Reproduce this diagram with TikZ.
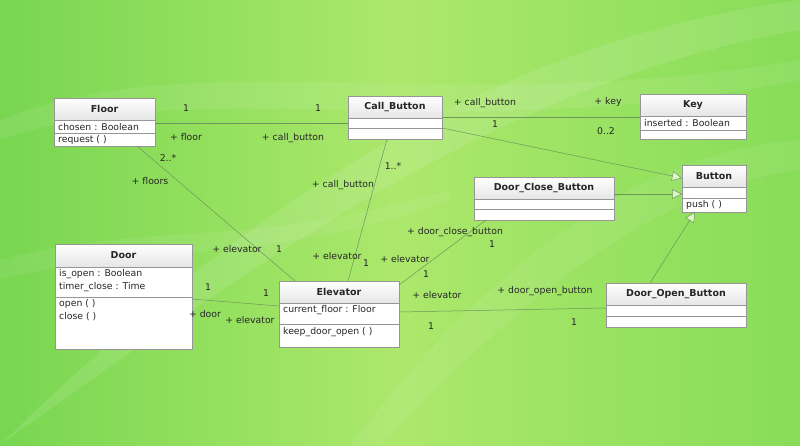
\documentclass[tikz,border=0pt]{standalone}
\usepackage{fontspec}
\setmainfont{DejaVu Sans}
\usetikzlibrary{arrows.meta,calc}
\definecolor{bgA}{RGB}{120,214,80}
\definecolor{bgB}{RGB}{172,232,108}
\definecolor{bgC}{RGB}{135,220,88}
\definecolor{edge}{RGB}{150,150,150}
\definecolor{lnk}{RGB}{110,150,90}
\tikzset{
  box/.style={draw=edge,fill=white,line width=0.8pt,inner sep=0pt},
  hdr/.style={draw=edge,top color=white,bottom color=black!10,line width=0.6pt},
  sep/.style={draw=edge,line width=0.6pt},
  title/.style={font=\fontsize{9.5}{11}\selectfont\bfseries,text=black!85},
  txt/.style={font=\fontsize{9.3}{11}\selectfont,anchor=west,text=black!85,inner sep=0pt},
  lab/.style={font=\fontsize{9.3}{11}\selectfont,text=black!85,inner sep=0pt},
  assoc/.style={draw=lnk,line width=0.5pt},
  gen/.style={draw=lnk,line width=0.5pt,-{Triangle[open,length=10pt,width=10pt,fill=white!60!bgB]}},
}
\newcommand\uclass[7]{%
  \node[box,minimum width={#4-#2},minimum height={#5-#3},anchor=north west] (#1) at (#2,#3) {};
  \path[hdr] (#2,#3) rectangle (#4,#6);
  \node[title] (#1-t) at ({(#2+#4)/2},{(#3+#6)/2}) {#7};
}
\newcommand\hsep[3]{\draw[sep] (#1,#3) -- (#2,#3);}
\begin{document}
\begin{tikzpicture}[x=1pt,y=-1pt]
\useasboundingbox (0,0) rectangle (800,445);
\shade[left color=bgA,right color=bgC,middle color=bgB] (0,0) rectangle (800,445);
\fill[white,opacity=0.10] (0,445) .. controls (250,200) and (500,40) .. (800,0) -- (800,30) .. controls (520,80) and (300,230) .. (0,445);
\fill[white,opacity=0.08] (0,120) .. controls (200,40) and (450,120) .. (800,60) -- (800,80) .. controls (450,150) and (200,70) .. (0,140);
\fill[white,opacity=0.07] (350,445) .. controls (500,250) and (650,150) .. (800,140) -- (800,170) .. controls (650,190) and (520,300) .. (380,445);
\fill[white,opacity=0.07] (0,260) .. controls (150,220) and (250,250) .. (450,190) -- (450,200) .. controls (250,270) and (150,240) .. (0,280);

\uclass{floor}{54}{98}{155}{146}{120}{Floor}
\hsep{54}{155}{133}
\node[txt] at (58,127) {chosen : Boolean};
\node[txt] at (58,140) {request ( )};

\uclass{callb}{348}{96}{442}{139}{118}{Call\_Button}
\hsep{348}{442}{128}

\uclass{key}{640}{94}{746}{139}{116}{Key}
\hsep{640}{746}{130}
\node[txt] at (644,123) {inserted : Boolean};

\uclass{button}{682}{165}{746}{212}{187}{Button}
\hsep{682}{746}{198}
\node[txt] at (686,205) {push ( )};

\uclass{dcb}{474}{177}{614}{220}{199}{Door\_Close\_Button}
\hsep{474}{614}{209}

\uclass{door}{55}{244}{192}{349}{267}{Door}
\hsep{55}{192}{297}
\node[txt] at (59,274) {is\_open : Boolean};
\node[txt] at (59,287) {timer\_close : Time};
\node[txt] at (59,304) {open ( )};
\node[txt] at (59,317) {close ( )};

\uclass{elev}{279}{281}{399}{347}{303}{Elevator}
\hsep{279}{399}{324}
\node[txt] at (283,310) {current\_floor : Floor};
\node[txt] at (283,332) {keep\_door\_open ( )};

\uclass{dob}{606}{283}{746}{327}{305}{Door\_Open\_Button}
\hsep{606}{746}{316}

\coordinate (fl-e) at (155,123);  \coordinate (cb-w) at (348,123);
\coordinate (fl-s) at (137,146);  \coordinate (el-nw) at (295,281);
\coordinate (cb-s) at (387,139);  \coordinate (el-n) at (348,281);
\coordinate (cb-e) at (442,117);  \coordinate (ky-w) at (640,117);
\coordinate (cb-e2) at (442,128); \coordinate (bt-w1) at (682,178);
\coordinate (dc-e) at (614,194);  \coordinate (bt-w2) at (682,194);
\coordinate (do-n) at (650,283);  \coordinate (bt-s) at (695,212);
\coordinate (el-ne) at (399,285); \coordinate (dc-s) at (486,220);
\coordinate (do-w) at (192,299);  \coordinate (el-w) at (279,306);
\coordinate (el-e) at (399,312);  \coordinate (dob-w) at (606,308);

\draw[assoc] (fl-e) -- (cb-w);
\draw[assoc] (fl-s) -- (el-nw);
\draw[assoc] (cb-s) -- (el-n);
\draw[assoc] (cb-e) -- (ky-w);
\draw[gen] (cb-e2) -- (bt-w1);
\draw[gen] (dc-e) -- (bt-w2);
\draw[gen] (do-n) -- (bt-s);
\draw[assoc] (el-ne) -- (dc-s);
\draw[assoc] (do-w) -- (el-w);
\draw[assoc] (el-e) -- (dob-w);

\node[lab] at (186,108) {1};
\node[lab] at (318,108) {1};
\node[lab] at (186,137) {+ floor};
\node[lab] at (293,138) {+ call\_button};
\node[lab] at (168,158) {2..*};
\node[lab] at (150,181) {+ floors};
\node[lab] at (237,249) {+ elevator};
\node[lab] at (279,249) {1};
\node[lab] at (393,166) {1..*};
\node[lab] at (343,185) {+ call\_button};
\node[lab] at (337,256) {+ elevator};
\node[lab] at (366,263) {1};
\node[lab] at (485,103) {+ call\_button};
\node[lab] at (608,102) {+ key};
\node[lab] at (495,124) {1};
\node[lab] at (606,131) {0..2};
\node[lab] at (455,232) {+ door\_close\_button};
\node[lab] at (492,244) {1};
\node[lab] at (405,259) {+ elevator};
\node[lab] at (426,274) {1};
\node[lab] at (208,287) {1};
\node[lab] at (266,293) {1};
\node[lab] at (205,314) {+ door};
\node[lab] at (250,320) {+ elevator};
\node[lab] at (437,295) {+ elevator};
\node[lab] at (545,291) {+ door\_open\_button};
\node[lab] at (431,326) {1};
\node[lab] at (574,322) {1};
\end{tikzpicture}
\end{document}
